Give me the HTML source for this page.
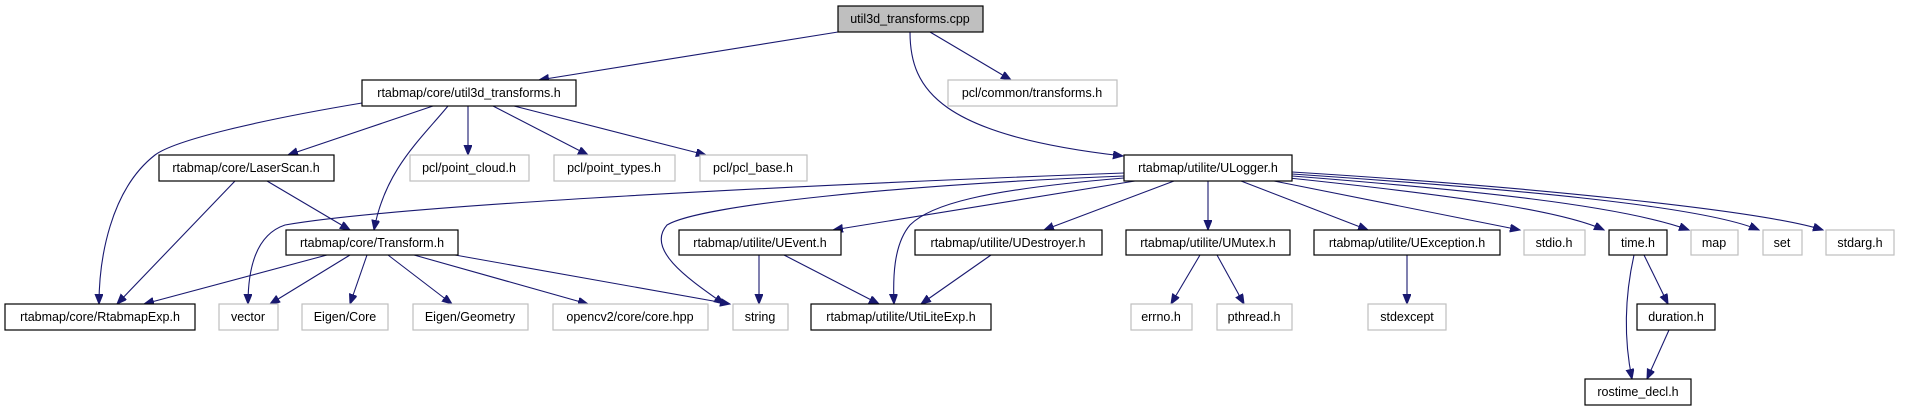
<!DOCTYPE html>
<html><head><meta charset="utf-8"><style>
html,body{margin:0;padding:0;background:#fff;}
svg{display:block;}
text{font-family:"Liberation Sans",sans-serif;font-size:12.5px;fill:#000;text-anchor:middle;}
.b{fill:#fff;stroke:#000;stroke-width:1.2;}
.g{fill:#fff;stroke:#bfbfbf;stroke-width:1.2;}
.e{fill:none;stroke:#191970;stroke-width:1.1;}
</style></head><body>
<svg width="1905" height="411" viewBox="0 0 1905 411">
<defs><marker id="a" markerUnits="userSpaceOnUse" markerWidth="12" markerHeight="10" refX="10" refY="4" orient="auto"><path d="M0,0 L10,4 L0,8 z" fill="#191970" stroke="#191970"/></marker></defs>
<g class="e" marker-end="url(#a)">
<path d="M838,32 L539,80"/>
<path d="M930,32 L1011,80"/>
<path d="M910,32 C910,90 940,135 1123,156"/>
<path d="M362,103 C260,120 175,140 155,155 C110,190 99,260 99,304"/>
<path d="M433,106 L288,155"/>
<path d="M448,106 C420,140 385,170 374,230"/>
<path d="M468,106 L468,155"/>
<path d="M493,106 L588,155"/>
<path d="M514,106 L706,155"/>
<path d="M235,181 L117,304"/>
<path d="M267,181 L350,230"/>
<path d="M327,255 L144,304"/>
<path d="M350,255 L270,304"/>
<path d="M367,255 L350,304"/>
<path d="M388,255 L452,304"/>
<path d="M414,255 L588,304"/>
<path d="M455,255 L730,304"/>
<path d="M1124,173 C800,185 400,205 285,225 C255,235 248,270 248,304"/>
<path d="M1124,176 C900,185 700,205 667,225 C645,250 690,280 724,304"/>
<path d="M1135,181 L833,230"/>
<path d="M1124,178 C980,190 930,205 910,225 C893,245 893,280 894,304"/>
<path d="M1174,181 L1044,230"/>
<path d="M1208,181 L1208,230"/>
<path d="M1241,181 L1368,230"/>
<path d="M1274,181 L1520,230"/>
<path d="M1289,178 C1450,195 1560,210 1604,230"/>
<path d="M1292,176 C1470,190 1620,205 1689,230"/>
<path d="M1292,174 C1500,188 1700,205 1759,230"/>
<path d="M1292,172 C1520,186 1760,210 1823,230"/>
<path d="M759,255 L759,304"/>
<path d="M784,255 L879,304"/>
<path d="M991,255 L921,304"/>
<path d="M1200,255 L1171,304"/>
<path d="M1217,255 L1244,304"/>
<path d="M1407,255 L1407,304"/>
<path d="M1644,255 L1668,304"/>
<path d="M1634,255 C1624,300 1624,340 1632,379"/>
<path d="M1669,330 L1647,379"/>
</g>
<rect x="838" y="6" width="145" height="26" fill="#bfbfbf" stroke="#000" stroke-width="1.2"/><text x="910" y="23">util3d_transforms.cpp</text>
<rect class="b" x="362" y="80" width="214" height="26"/><text x="469" y="97">rtabmap/core/util3d_transforms.h</text>
<rect class="g" x="948" y="80" width="169" height="26"/><text x="1032" y="97">pcl/common/transforms.h</text>
<rect class="b" x="159" y="155" width="175" height="26"/><text x="246" y="172">rtabmap/core/LaserScan.h</text>
<rect class="g" x="410" y="155" width="119" height="26"/><text x="469" y="172">pcl/point_cloud.h</text>
<rect class="g" x="554" y="155" width="121" height="26"/><text x="614" y="172">pcl/point_types.h</text>
<rect class="g" x="700" y="155" width="107" height="26"/><text x="753" y="172">pcl/pcl_base.h</text>
<rect class="b" x="1124" y="155" width="168" height="26"/><text x="1208" y="172">rtabmap/utilite/ULogger.h</text>
<rect class="b" x="286" y="230" width="172" height="25"/><text x="372" y="247">rtabmap/core/Transform.h</text>
<rect class="b" x="679" y="230" width="162" height="25"/><text x="760" y="247">rtabmap/utilite/UEvent.h</text>
<rect class="b" x="915" y="230" width="187" height="25"/><text x="1008" y="247">rtabmap/utilite/UDestroyer.h</text>
<rect class="b" x="1126" y="230" width="164" height="25"/><text x="1208" y="247">rtabmap/utilite/UMutex.h</text>
<rect class="b" x="1314" y="230" width="186" height="25"/><text x="1407" y="247">rtabmap/utilite/UException.h</text>
<rect class="g" x="1524" y="230" width="61" height="25"/><text x="1554" y="247">stdio.h</text>
<rect class="b" x="1609" y="230" width="58" height="25"/><text x="1638" y="247">time.h</text>
<rect class="g" x="1691" y="230" width="47" height="25"/><text x="1714" y="247">map</text>
<rect class="g" x="1763" y="230" width="39" height="25"/><text x="1782" y="247">set</text>
<rect class="g" x="1826" y="230" width="68" height="25"/><text x="1860" y="247">stdarg.h</text>
<rect class="b" x="5" y="304" width="190" height="26"/><text x="100" y="321">rtabmap/core/RtabmapExp.h</text>
<rect class="g" x="219" y="304" width="59" height="26"/><text x="248" y="321">vector</text>
<rect class="g" x="302" y="304" width="86" height="26"/><text x="345" y="321">Eigen/Core</text>
<rect class="g" x="413" y="304" width="115" height="26"/><text x="470" y="321">Eigen/Geometry</text>
<rect class="g" x="553" y="304" width="155" height="26"/><text x="630" y="321">opencv2/core/core.hpp</text>
<rect class="g" x="733" y="304" width="55" height="26"/><text x="760" y="321">string</text>
<rect class="b" x="811" y="304" width="180" height="26"/><text x="901" y="321">rtabmap/utilite/UtiLiteExp.h</text>
<rect class="g" x="1131" y="304" width="61" height="26"/><text x="1161" y="321">errno.h</text>
<rect class="g" x="1217" y="304" width="75" height="26"/><text x="1254" y="321">pthread.h</text>
<rect class="g" x="1368" y="304" width="78" height="26"/><text x="1407" y="321">stdexcept</text>
<rect class="b" x="1637" y="304" width="78" height="26"/><text x="1676" y="321">duration.h</text>
<rect class="b" x="1585" y="379" width="106" height="26"/><text x="1638" y="396">rostime_decl.h</text>
</svg>
</body></html>
